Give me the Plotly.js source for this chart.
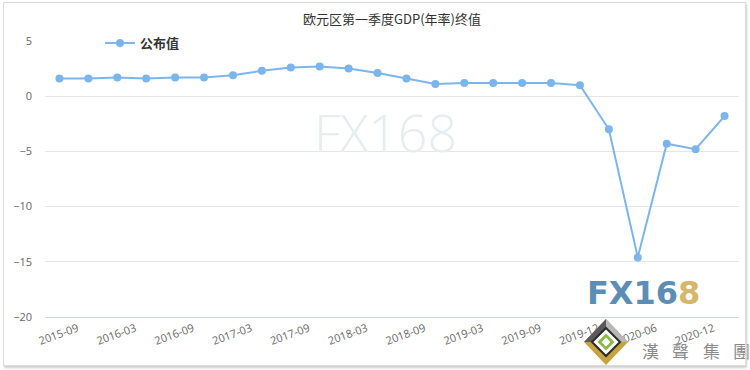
<!DOCTYPE html>
<html><head><meta charset="utf-8">
<script src="https://cdn.plot.ly/plotly-3.0.1.min.js"></script>
<style>
html,body{margin:0;padding:0;background:#fff}
#wrap{position:relative;width:750px;height:370px}
#chart{width:750px;height:370px}
#frame{position:absolute;left:3px;top:2px;width:741px;height:362px;border:1px solid #dcdcdc;box-shadow:1px 2px 2px #cfcfcf;pointer-events:none}
</style>
</head><body><div id="wrap"><div id="chart"></div><div id="frame"></div></div>
<script>
const categories = ["2015-09","2015-12","2016-03","2016-06","2016-09","2016-12","2017-03","2017-06","2017-09","2017-12","2018-03","2018-06","2018-09","2018-12","2019-03","2019-06","2019-09","2019-11","2019-12","2020-03","2020-06","2020-09","2020-12","2021-03"];
const values = [1.6,1.6,1.7,1.6,1.7,1.7,1.9,2.3,2.6,2.7,2.5,2.1,1.6,1.1,1.2,1.2,1.2,1.2,1.0,-3.0,-14.6,-4.3,-4.8,-1.8];
const tickLabels = categories.filter((c,i)=>i%2===0);
const seriesName = "公布值";
const titleText = "欧元区第一季度GDP(年率)终值";
const brandChars = ["漢","聲","集","團"];

const L=45,R=739,T=41,B=317;
const px = x => (x-L)/(R-L);
const py = y => (B-y)/(B-T);
function diamond(cx,cy,hw,hh){
  return `M${px(cx)},${py(cy-hh)} L${px(cx+hw)},${py(cy)} L${px(cx)},${py(cy+hh)} L${px(cx-hw)},${py(cy)} Z`;
}
const shapes = [
  {type:'path',xref:'paper',yref:'paper',path:diamond(606,342,22,23),fillcolor:'#c9a23e',line:{width:0}},
  {type:'path',xref:'paper',yref:'paper',path:`M${px(606)},${py(319)} L${px(628)},${py(342)} L${px(606)},${py(342)} Z`,fillcolor:'#b8b8b8',line:{width:0}},
  {type:'path',xref:'paper',yref:'paper',path:`M${px(606)},${py(319)} L${px(584)},${py(342)} L${px(606)},${py(342)} Z`,fillcolor:'#5a5a5a',line:{width:0}},
  {type:'path',xref:'paper',yref:'paper',path:diamond(606,342,14,14),fillcolor:'#ffffff',line:{color:'#2a2a2a',width:2}},
  {type:'path',xref:'paper',yref:'paper',path:diamond(606,342,8.5,8.5),fillcolor:'#8cb84a',line:{width:0}},
  {type:'path',xref:'paper',yref:'paper',path:diamond(606,342,4.5,4.5),fillcolor:'#ffffff',line:{width:0}}
];
const annotations = [
  {xref:'paper',yref:'paper',x:px(385),y:py(131),xanchor:'center',yanchor:'middle',text:'FX168',showarrow:false,font:{family:'Open Sans, sans-serif',size:52,weight:300,color:'#e6edf1'}},
  {xref:'paper',yref:'paper',x:px(643),y:py(293),xanchor:'center',yanchor:'middle',text:'<b><span style="color:#5b8db5">FX16</span><span style="color:#d6b76a">8</span></b>',showarrow:false,font:{family:'DejaVu Sans, sans-serif',size:32}}
];
brandChars.forEach((c,i)=>annotations.push({xref:'paper',yref:'paper',x:px(650+i*30.5),y:py(350),xanchor:'center',yanchor:'middle',text:c,showarrow:false,font:{family:'Noto Sans CJK TC, sans-serif',size:17,color:'#8a8a8a'}}));

Plotly.newPlot('chart',[{
  type:'scatter',mode:'lines+markers',name:seriesName,
  x:categories,y:values,
  line:{color:'#7cb5ec',width:2},
  marker:{color:'#7cb5ec',size:8}
}],{
  width:750,height:370,
  margin:{l:L,r:750-R,t:T,b:370-B},
  paper_bgcolor:'#fff',plot_bgcolor:'#fff',
  title:{text:titleText,x:0.5,xref:'paper',y:0.96,yref:'container',font:{family:'Noto Sans CJK SC, sans-serif',size:13,color:'#333'}},
  showlegend:true,
  legend:{x:px(100),xanchor:'left',y:py(43),yanchor:'middle',bgcolor:'#fff',font:{family:'Noto Sans CJK SC, sans-serif',size:13,color:'#333',weight:'bold'},orientation:'h'},
  xaxis:{type:'category',range:[-0.5,categories.length-0.5],tickvals:tickLabels,ticktext:tickLabels,tickangle:-20,ticklabelshift:18,
    tickfont:{family:'Open Sans, sans-serif',size:11,color:'#666'},showgrid:false,showline:true,linecolor:'#ccd6eb',linewidth:1,ticks:'',zeroline:false},
  yaxis:{range:[-20,5],dtick:5,tick0:0,showgrid:true,gridcolor:'#e6e6e6',zeroline:false,showline:false,ticks:'',
    tickfont:{family:'Open Sans, sans-serif',size:11,color:'#666'},ticklabelstandoff:12},
  shapes:shapes,annotations:annotations
},{displayModeBar:false,staticPlot:true});
</script></body></html>
